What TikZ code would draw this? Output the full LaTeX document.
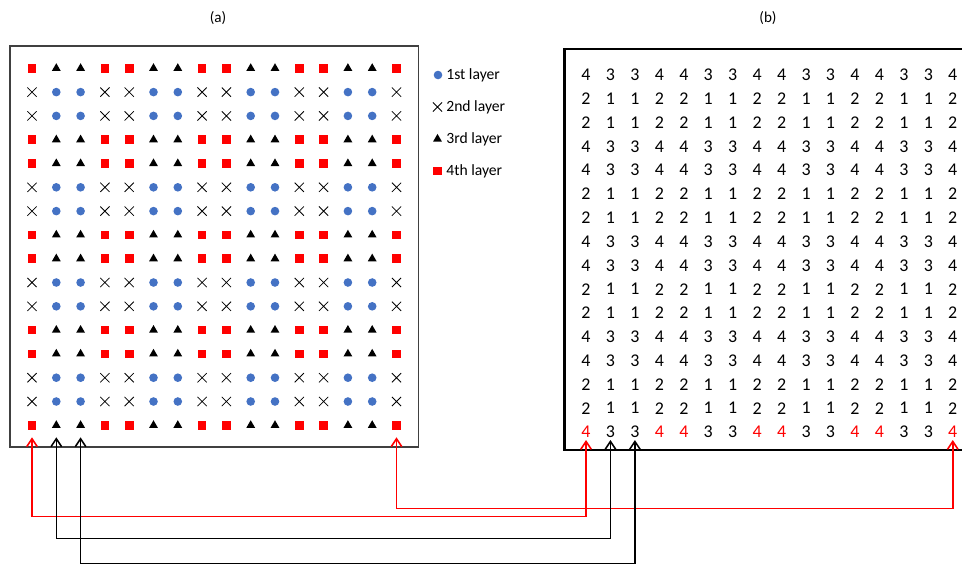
\documentclass[tikz,border=0pt]{standalone}
\usepackage{fontspec}
\setmainfont{Carlito}
\usetikzlibrary{shapes.geometric, shapes.misc, arrows.meta, calc}
\definecolor{layerblue}{RGB}{68,114,196}

\begin{document}
\begin{tikzpicture}[
  x=0.02cm, y=-0.02cm,
  every node/.style={inner sep=0pt},
  layer1/.style={circle, fill=layerblue, minimum size=4.9pt},
  layer2/.style={cross out, draw, line width=0.45pt, minimum size=4.8pt},
  layer3/.style={regular polygon, regular polygon sides=3, fill=black, minimum size=5.8pt},
  layer4/.style={rectangle, fill=red, minimum size=4.9pt},
  num/.style={font=\fontsize{10.2}{12}\selectfont},
  caption/.style={font=\fontsize{8.6}{10}\selectfont},
  legend/.style={anchor=west, font=\fontsize{8.9}{10}\selectfont},
  link/.style={{Straight Barb[length=4.5pt,width=6pt]}-{Straight Barb[length=4.5pt,width=6pt]}, line width=0.9pt}
]
\useasboundingbox (0,0) rectangle (962,566);

\node[caption] (cap-a) at (218,18) {(a)};
\node[caption] (cap-b) at (768,18) {(b)};

% frames
\draw[line width=0.6pt, black!75] (10,46) rectangle (418.5,447);
\draw[line width=1.6pt] (962,49) -- (564.5,49) -- (564.5,450) -- (962,450);

% layer markers (a) and layer numbers (b)
\foreach \r in {1,...,16}
  \foreach \c in {1,...,16} {
    \pgfmathtruncatemacro\lay{1 + 2*(1-mod(floor(\r/2),2)) + (1-mod(floor(\c/2),2))}
    \def\numcol{black}
    \ifnum\r=16 \ifnum\lay=4 \def\numcol{red}\fi\fi
    \node[layer\lay] (a-\r-\c) at ({32+24.3*(\c-1)}, {68.3+23.8*(\r-1)}) {};
    \node[num, text=\numcol] (b-\r-\c) at ({586+24.45*(\c-1)}, {75+23.8*(\r-1)}) {\lay};
  }

% legend
\node[layer1] (key1) at (438,75) {};
\node[legend] (key1-text) at (446,75) {1st layer};
\node[layer2] (key2) at (437.5,107) {};
\node[legend] (key2-text) at (446,107) {2nd layer};
\node[layer3] (key3) at (437.5,139) {};
\node[legend] (key3-text) at (446,139) {3rd layer};
\node[layer4] (key4) at (437.5,171) {};
\node[legend] (key4-text) at (446,171) {4th layer};

% links between the two grids
\draw[link, red] ($(a-16-1)+(0,12)$) -- ++(0,79) -| ($(b-16-1)+(0,8)$);
\draw[link, red] ($(a-16-16)+(0,12)$) -- ++(0,71) -| ($(b-16-16)+(0,8)$);
\draw[link] ($(a-16-2)+(0,12)$) -- ++(0,101) -| ($(b-16-2)+(0,8)$);
\draw[link] ($(a-16-3)+(0,12)$) -- ++(0,126) -| ($(b-16-3)+(0,8)$);

\end{tikzpicture}
\end{document}
